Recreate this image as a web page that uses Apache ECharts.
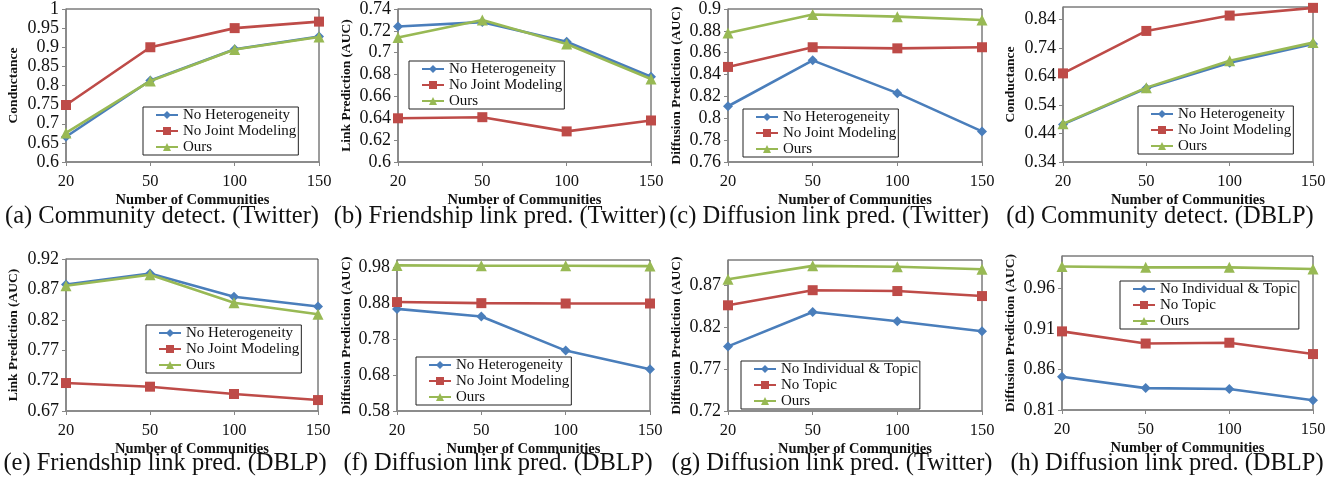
<!DOCTYPE html>
<html><head><meta charset="utf-8">
<script src="https://cdn.jsdelivr.net/npm/echarts@6/dist/echarts.min.js"></script>
<style>html,body{margin:0;padding:0;background:#fff}#c{width:1336px;height:481px}</style>
</head><body><div id="c"></div>
<script>
// ---- data ----
const categories = ['20', '50', '100', '150'];
const namesA = ['No Heterogeneity', 'No Joint Modeling', 'Ours'];
const namesB = ['No Individual & Topic', 'No Topic', 'Ours'];

const aBlue = [0.666, 0.813, 0.895, 0.928];
const aRed = [0.749, 0.900, 0.950, 0.967];
const aGreen = [0.676, 0.812, 0.894, 0.927];

const bBlue = [0.724, 0.728, 0.710, 0.678];
const bRed = [0.640, 0.641, 0.628, 0.638];
const bGreen = [0.714, 0.730, 0.708, 0.676];

const cBlue = [0.811, 0.853, 0.823, 0.788];
const cRed = [0.847, 0.865, 0.864, 0.865];
const cGreen = [0.878, 0.895, 0.893, 0.890];

const dBlue = [0.472, 0.599, 0.688, 0.754];
const dRed = [0.651, 0.800, 0.854, 0.881];
const dGreen = [0.474, 0.601, 0.695, 0.759];

const eBlue = [0.878, 0.896, 0.858, 0.842];
const eRed = [0.716, 0.710, 0.698, 0.688];
const eGreen = [0.876, 0.894, 0.848, 0.829];

const fBlue = [0.864, 0.843, 0.748, 0.696];
const fRed = [0.883, 0.880, 0.879, 0.879];
const fGreen = [0.985, 0.984, 0.984, 0.983];

const gBlue = [0.797, 0.838, 0.827, 0.815];
const gRed = [0.846, 0.864, 0.863, 0.857];
const gGreen = [0.877, 0.893, 0.892, 0.889];

const hBlue = [0.851, 0.837, 0.836, 0.822];
const hRed = [0.907, 0.892, 0.893, 0.879];
const hGreen = [0.987, 0.986, 0.986, 0.984];

const yNames = ['Conductance', 'Link Prediction (AUC)', 'Diffusion Prediction (AUC)', 'Conductance',
  'Link Prediction (AUC)', 'Diffusion Prediction (AUC)', 'Diffusion Prediction (AUC)', 'Diffusion Prediction (AUC)'];
const yMins = [0.6, 0.6, 0.76, 0.34, 0.67, 0.58, 0.72, 0.81];
const yMaxs = [1.0, 0.74, 0.9, 0.884, 0.92, 1.0, 0.9, 1.0];
const yIntervals = [0.05, 0.02, 0.02, 0.1, 0.05, 0.1, 0.05, 0.05];
const captions = ['(a) Community detect. (Twitter)', '(b) Friendship link pred. (Twitter)',
  '(c) Diffusion link pred. (Twitter)', '(d) Community detect. (DBLP)',
  '(e) Friendship link pred. (DBLP)', '(f) Diffusion link pred. (DBLP)',
  '(g) Diffusion link pred. (Twitter)', '(h) Diffusion link pred. (DBLP)'];
const xName = 'Number of Communities';

// ---- layout ----
const panels = [
  {grid: [66, 9, 253, 153], leg: [143, 107], cap: [162, 204], names: namesA, d: [aBlue, aRed, aGreen], yn: 45},
  {grid: [398, 9, 253, 153], leg: [409, 61], cap: [500, 204], names: namesA, d: [bBlue, bRed, bGreen], yn: 44},
  {grid: [728, 9, 254, 153], leg: [743, 109], cap: [829, 204], names: namesA, d: [cBlue, cRed, cGreen], yn: 44},
  {grid: [1063, 7, 250, 155], leg: [1138, 106], cap: [1160, 204], names: namesA, d: [dBlue, dRed, dGreen], yn: 45},
  {grid: [66, 259, 252, 152], leg: [146, 325], cap: [165, 451], names: namesA, d: [eBlue, eRed, eGreen], yn: 45},
  {grid: [397, 260, 253, 151], leg: [416, 357], cap: [498, 451], names: namesA, d: [fBlue, fRed, fGreen], yn: 43},
  {grid: [728, 260, 254, 151], leg: [741, 361], cap: [832, 451], names: namesB, d: [gBlue, gRed, gGreen], yn: 44},
  {grid: [1062, 256, 251, 154], leg: [1120, 281], cap: [1167, 451], names: namesB, d: [hBlue, hRed, hGreen], yn: 44}
];
const colors = ['#4a7ebb', '#be4b48', '#98b954'];
const symbols = ['diamond', 'rect', 'triangle'];
const symSizes = [10, 10, 11];
const SERIF = '"Liberation Serif", "Times New Roman", serif';

const option = {animation: false, backgroundColor: '#fff', grid: [], xAxis: [], yAxis: [], series: [], legend: [], title: []};
panels.forEach((p, i) => {
  option.grid.push({left: p.grid[0], top: p.grid[1], width: p.grid[2], height: p.grid[3],
    show: true, borderColor: '#3a3a3a', borderWidth: 1, backgroundColor: 'transparent'});
  option.xAxis.push({type: 'category', gridIndex: i, data: categories, boundaryGap: false,
    name: xName, nameLocation: 'middle', nameGap: 31,
    nameTextStyle: {fontFamily: SERIF, fontWeight: 'bold', fontSize: 14.5, color: '#111'},
    axisLine: {lineStyle: {color: '#868686', width: 1.5}},
    axisTick: {show: true, length: 4, lineStyle: {color: '#868686'}},
    axisLabel: {fontFamily: SERIF, fontSize: 16.5, color: '#111', margin: 11},
    splitLine: {show: false}});
  option.yAxis.push({type: 'value', gridIndex: i, min: yMins[i], max: yMaxs[i], interval: yIntervals[i],
    name: yNames[i], nameLocation: 'middle', nameGap: p.yn, nameRotate: 90,
    nameTextStyle: {fontFamily: SERIF, fontWeight: 'bold', fontSize: 13.5, color: '#111'},
    axisLine: {show: true, lineStyle: {color: '#868686', width: 1.5}},
    axisTick: {show: true, length: 4, lineStyle: {color: '#868686'}},
    axisLabel: {fontFamily: SERIF, fontSize: 18, color: '#111', margin: 7,
      showMaxLabel: (yMaxs[i] - yMins[i]) / yIntervals[i] % 1 < 1e-6 || (yMaxs[i] - yMins[i]) / yIntervals[i] % 1 > 1 - 1e-6,
      formatter: v => String(+v.toFixed(2))},
    splitLine: {show: false}});
  p.d.forEach((vals, k) => {
    option.series.push({type: 'line', name: p.names[k], xAxisIndex: i, yAxisIndex: i, data: vals,
      symbol: symbols[k], symbolSize: symSizes[k], showSymbol: true,
      lineStyle: {color: colors[k], width: 2.6}, itemStyle: {color: colors[k]}, z: 2 + k});
  });
  option.legend.push({left: p.leg[0], top: p.leg[1], orient: 'vertical', data: p.names,
    backgroundColor: '#fff', borderColor: '#222', borderWidth: 1, padding: [0, 2, 0, 12],
    itemWidth: 22, itemHeight: 10, itemGap: 0, selectedMode: false,
    textStyle: {fontFamily: SERIF, fontSize: 15, color: '#111', lineHeight: 16}});
  option.title.push({text: captions[i], left: p.cap[0], top: p.cap[1], textAlign: 'center', padding: 0,
    textStyle: {fontFamily: SERIF, fontWeight: 'normal', fontSize: 24.5, color: '#111'}});
});
const chart = echarts.init(document.getElementById('c'));
chart.setOption(option);
</script></body></html>
